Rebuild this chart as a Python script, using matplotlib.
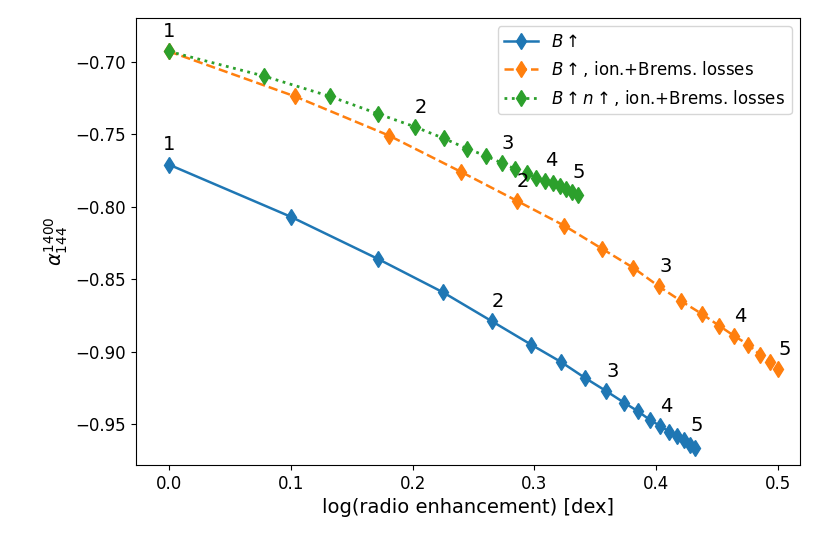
import matplotlib
matplotlib.use("Agg")
import matplotlib.pyplot as plt
import numpy as np

def px2x(p): return [(v-169)/1218 for v in p]

blue_x = px2x([169,291,378,443,492,531,561,585,606,624,638,650,660,669,677,684,690,695])
blue_y = [-0.771,-0.807,-0.836,-0.859,-0.879,-0.895,-0.907,-0.918,-0.927,-0.935,-0.941,-0.947,-0.951,-0.955,-0.958,-0.961,-0.964,-0.966]
orange_x = px2x([169,295,389,461,517,564,602,633,659,681,702,719,734,748,760,770,778])
orange_y = [-0.693,-0.724,-0.751,-0.776,-0.796,-0.813,-0.829,-0.842,-0.855,-0.865,-0.874,-0.882,-0.889,-0.895,-0.902,-0.907,-0.912]
green_x = px2x([169,264,330,378,415,444,467,486,502,515,527,536,545,553,560,566,572,578])
green_y = [-0.693,-0.710,-0.724,-0.736,-0.745,-0.753,-0.760,-0.765,-0.770,-0.774,-0.777,-0.780,-0.782,-0.784,-0.786,-0.788,-0.790,-0.792]

blue_lab = {0:"1",4:"2",8:"3",12:"4",16:"5"}
orange_lab = {4:"2",8:"3",12:"4",16:"5"}
green_lab = {0:"1",4:"2",8:"3",12:"4",16:"5"}

fig = plt.figure(figsize=(8.3,5.54), dpi=100)
ax = fig.add_axes([136/830, 1-465/554, (800-136)/830, (465-18)/554])
ax.plot(blue_x, blue_y, '-', marker='d', ms=8, lw=1.8, color='#1f77b4', label=r'$B\uparrow$')
ax.plot(orange_x, orange_y, '--', marker='d', ms=8, lw=1.8, color='#ff7f0e', label=r'$B\uparrow$, ion.+Brems. losses')
ax.plot(green_x, green_y, ':', marker='d', ms=8, lw=2, color='#2ca02c', label=r'$B\uparrow n\uparrow$, ion.+Brems. losses')
for xs, ys, labs in [(blue_x,blue_y,blue_lab),(orange_x,orange_y,orange_lab),(green_x,green_y,green_lab)]:
    for i,t in labs.items():
        ax.text(xs[i], ys[i]+0.007, t, fontsize=14, ha='left' if i else 'center', va='bottom')
ax.set_xlim(-0.027, 0.518)
ax.set_ylim(-0.978, -0.670)
ax.set_xticks([0,0.1,0.2,0.3,0.4,0.5])
ax.set_yticks([-0.95,-0.9,-0.85,-0.8,-0.75,-0.7])
ax.tick_params(labelsize=12)
ax.set_xlabel('log(radio enhancement) [dex]', fontsize=14)
ax.set_ylabel(r'$\alpha_{144}^{1400}$', fontsize=14)
ax.legend(loc='upper right', fontsize=12)
fig.savefig('out.png', dpi=100)
